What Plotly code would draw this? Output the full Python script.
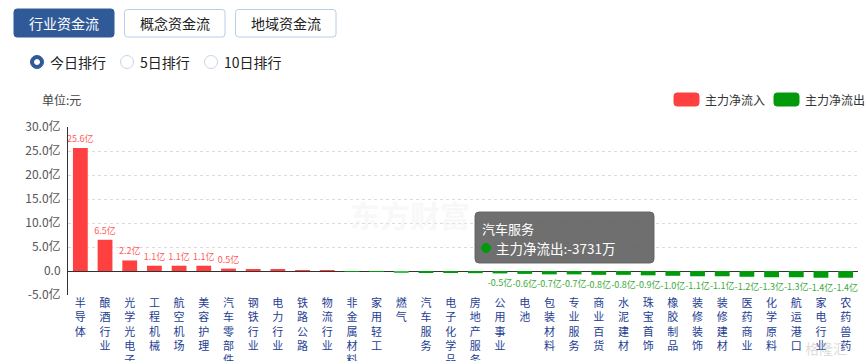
import plotly.graph_objects as go

categories = ["半导体", "酿酒行业", "光学光电子", "工程机械", "航空机场", "美容护理", "汽车零部件",
              "钢铁行业", "电力行业", "铁路公路", "物流行业", "非金属材料", "家用轻工", "燃气",
              "汽车服务", "电子化学品", "房地产服务", "公用事业", "电池", "包装材料", "专业服务",
              "商业百货", "水泥建材", "珠宝首饰", "橡胶制品", "装修装饰", "装修建材", "医药商业",
              "化学原料", "航运港口", "家电行业", "农药兽药"]
values = [25.6, 6.5, 2.2, 1.1, 1.1, 1.1, 0.5,
          0.4, 0.38, 0.2, 0.04, -0.03, -0.06, -0.33,
          -0.3731, -0.4, -0.45, -0.5, -0.6, -0.7, -0.7,
          -0.8, -0.8, -0.9, -1.0, -1.1, -1.1, -1.2,
          -1.3, -1.3, -1.4, -1.4]
y_ticks = [-5, 0, 5, 10, 15, 20, 25, 30]
y_tick_text = ["-5.0亿", "0.0", "5.0亿", "10.0亿", "15.0亿", "20.0亿", "25.0亿", "30.0亿"]

RED = "#ff4040"
GREEN = "#019a0b"
FONT = "Noto Sans CJK SC, Microsoft YaHei, sans-serif"

W, H = 865, 361
ML, MR, MT, MB = 68, 7, 127, 66
PW, PH = W - ML - MR, H - MT - MB


def px(x):
    return (x - ML) / PW


def py(y):
    return (H - MB - y) / PH


colors = []
for c, v in zip(categories, values):
    if c == "燃气":
        colors.append("#3cc43c")
    else:
        colors.append(RED if v >= 0 else GREEN)
labels = [f"{v:.1f}亿" if abs(v) >= 0.5 else "" for v in values]
label_colors = ["#ff5a5a" if v >= 0 else "#3aaa3a" for v in values]
tick_text = ["<br>".join(list(c)) for c in categories]

fig = go.Figure()
fig.add_trace(go.Bar(
    x=categories, y=values, marker=dict(color=colors, line=dict(width=0)),
    text=labels, textposition="outside", cliponaxis=False, constraintext="none",
    textfont=dict(size=9, color=label_colors, family=FONT),
    hoverinfo="skip",
))

shapes = []
annotations = []


def rrect(x0, y0, x1, y1, r, fill, line=None):
    p = (f"M {px(x0 + r)} {py(y0)} L {px(x1 - r)} {py(y0)} Q {px(x1)} {py(y0)} {px(x1)} {py(y0 + r)} "
         f"L {px(x1)} {py(y1 - r)} Q {px(x1)} {py(y1)} {px(x1 - r)} {py(y1)} "
         f"L {px(x0 + r)} {py(y1)} Q {px(x0)} {py(y1)} {px(x0)} {py(y1 - r)} "
         f"L {px(x0)} {py(y0 + r)} Q {px(x0)} {py(y0)} {px(x0 + r)} {py(y0)} Z")
    shapes.append(dict(type="path", xref="paper", yref="paper", path=p, fillcolor=fill,
                       line=dict(color=line or fill, width=1)))


def text(x, y, s, size=12, color="#333", anchor="left", **kw):
    annotations.append(dict(x=px(x), y=py(y), xref="paper", yref="paper", text=s, showarrow=False,
                            xanchor=anchor, yanchor="middle", font=dict(size=size, color=color, family=FONT), **kw))


def circle(cx, cy, r, fill, line):
    shapes.append(dict(type="circle", xref="paper", yref="paper", x0=px(cx - r), x1=px(cx + r),
                       y0=py(cy + r), y1=py(cy - r), fillcolor=fill, line=dict(color=line, width=1)))


# top buttons
rrect(14, 9, 114, 37, 3, "#305a97")
text(64, 23, "行业资金流", 14, "white", "center")
rrect(124.5, 9.5, 225, 37, 3, "white", "#b9cee6")
text(175, 23, "概念资金流", 14, "#222", "center")
rrect(235.5, 9.5, 336, 37, 3, "white", "#b9cee6")
text(286, 23, "地域资金流", 14, "#222", "center")

# radios
circle(37, 62, 6.5, "#305a97", "#305a97")
circle(37, 62, 2.5, "white", "white")
text(48, 62, "今日排行", 14, "#222")
circle(127, 62, 6.5, "white", "#c4d6ea")
text(138, 62, "5日排行", 14, "#222")
circle(211, 62, 6.5, "white", "#c4d6ea")
text(222, 62, "10日排行", 14, "#222")

text(40, 100, "单位:元", 12, "#444")

# legend
rrect(674, 93, 699, 106, 3, RED)
text(703, 100, "主力净流入", 12, "#333")
rrect(774, 93, 799, 106, 3, GREEN)
text(803, 100, "主力净流出", 12, "#333")

# watermarks
text(410, 214, "<b>东方财富</b>", 30, "rgba(238,238,238,0.4)", "center")
text(826, 348, "格隆汇", 14, "rgba(190,190,190,0.55)", "center")

# tooltip
rrect(475, 212, 654, 263, 4, "rgba(95,95,95,0.9)")
text(480, 228, "汽车服务", 13, "white")
circle(486, 248, 4.5, GREEN, GREEN)
text(494, 248, "主力净流出:-3731万", 13.5, "white")

fig.update_layout(
    width=W, height=H, margin=dict(l=ML, r=MR, t=MT, b=MB, autoexpand=False),
    paper_bgcolor="white", plot_bgcolor="white", showlegend=False, bargap=0.4,
    font=dict(family=FONT), hovermode=False,
    shapes=shapes, annotations=annotations,
)
fig.update_xaxes(tickmode="array", tickvals=categories, ticktext=tick_text, tickangle=0,
                 tickfont=dict(size=11, color="#1d3d92", family=FONT), showgrid=False,
                 showline=False, ticks="", automargin=False, range=[-0.5, len(categories) - 0.5])
fig.update_yaxes(range=[-5, 30], tickmode="array", tickvals=y_ticks, ticktext=y_tick_text,
                 tickfont=dict(size=12, color="#555", family=FONT), showgrid=True,
                 gridcolor="#dcdcdc", griddash="3px,3px", zeroline=True, zerolinecolor="#333",
                 zerolinewidth=1, showline=True, linecolor="#333", linewidth=1,
                 ticks="", ticklabelstandoff=4, automargin=False)

fig.write_html("out.html", config={"displayModeBar": False},
               post_script="document.body.style.margin='0';document.body.style.overflow='hidden';")
